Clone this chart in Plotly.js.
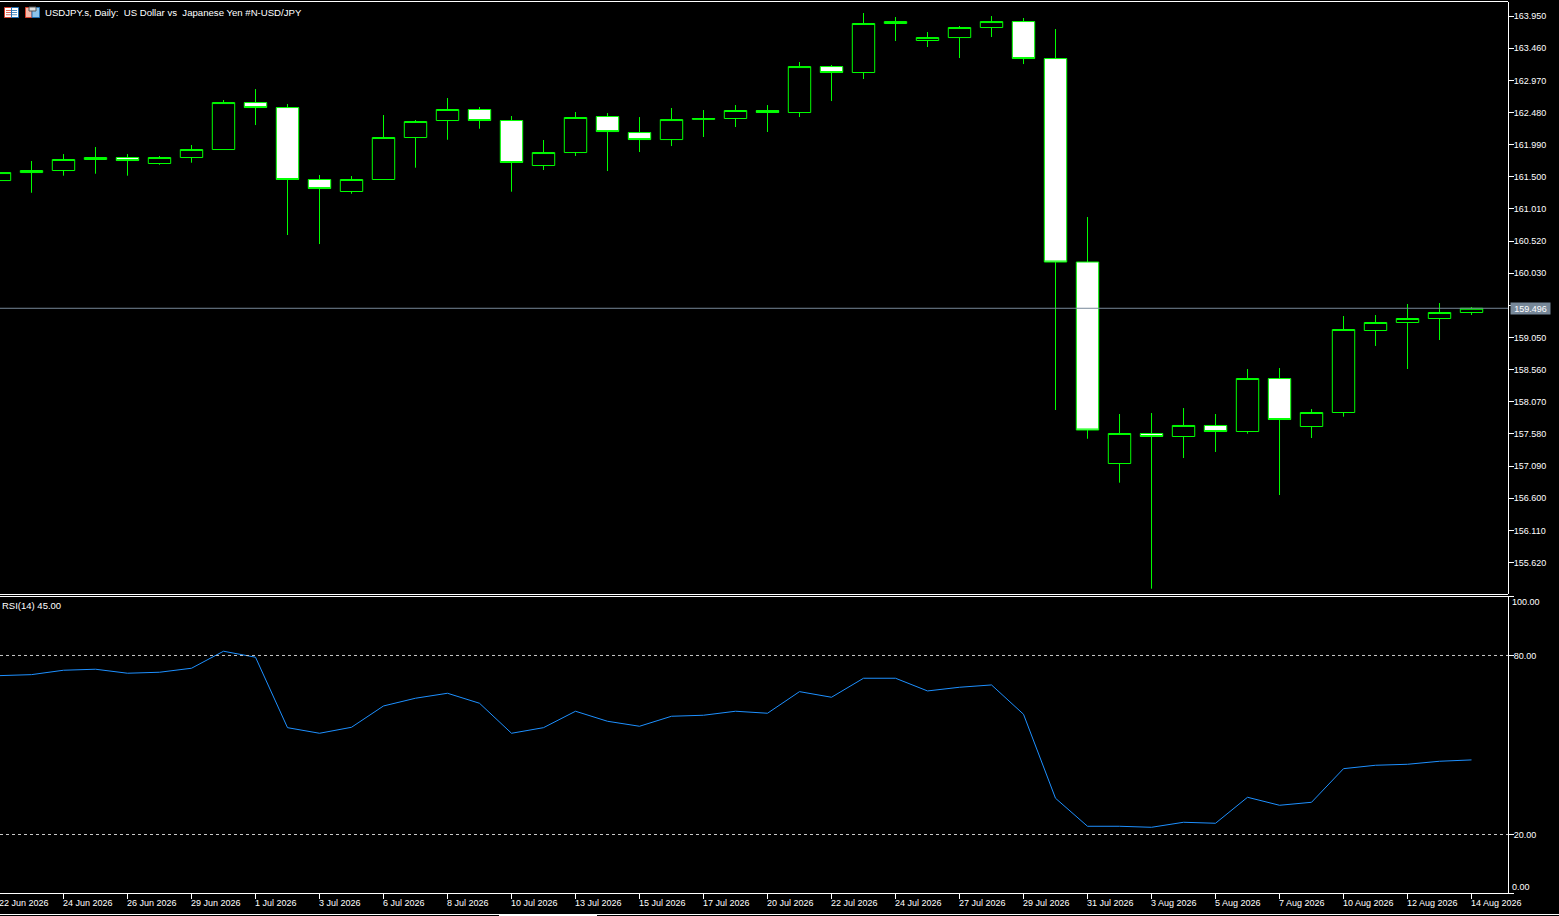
<!DOCTYPE html>
<html>
<head>
<meta charset="utf-8">
<title>USDJPY.s Daily</title>
<script src="https://cdn.plot.ly/plotly-3.0.1.min.js"></script>
<style>
  html, body { margin: 0; padding: 0; background: #000; overflow: hidden; }
</style>
</head>
<body>
<div id="chart" style="width:1559px;height:916px"></div>
<script>
const opens = [161.443, 161.565, 161.596, 161.764, 161.794, 161.703, 161.794, 161.916, 162.632, 162.556, 161.459, 161.276,
  161.459, 162.099, 162.358, 162.526, 162.358, 161.672, 161.870, 162.419, 162.175, 162.068, 162.375, 162.389,
  162.511, 162.480, 163.181, 163.090, 163.837, 163.578, 163.623, 163.776, 163.867, 163.303, 160.201, 157.129,
  157.587, 157.541, 157.709, 157.617, 158.425, 157.693, 157.907, 159.157, 159.279, 159.340, 159.431];
const highs = [161.620, 161.741, 161.847, 161.954, 161.847, 161.817, 161.985, 162.671, 162.838, 162.610, 161.527, 161.512,
  162.442, 162.366, 162.701, 162.564, 162.427, 162.061, 162.488, 162.472, 162.411, 162.549, 162.518, 162.594,
  162.594, 163.250, 163.204, 163.997, 163.936, 163.707, 163.799, 163.951, 163.921, 163.753, 160.887, 157.884,
  157.899, 157.975, 157.884, 158.570, 158.585, 157.960, 159.378, 159.393, 159.561, 159.576, 159.515];
const lows = [161.380, 161.257, 161.517, 161.547, 161.517, 161.684, 161.715, 161.913, 162.289, 160.613, 160.475, 161.242,
  161.456, 161.639, 162.065, 162.233, 161.273, 161.604, 161.817, 161.588, 161.878, 161.969, 162.107, 162.259,
  162.183, 162.411, 162.655, 162.991, 163.570, 163.479, 163.311, 163.631, 163.219, 157.945, 157.507, 156.837,
  155.221, 157.213, 157.305, 157.584, 156.649, 157.518, 157.843, 158.921, 158.570, 159.012, 159.393];
const closes = [161.565, 161.596, 161.764, 161.794, 161.748, 161.794, 161.916, 162.632, 162.556, 161.459, 161.321, 161.459,
  162.099, 162.343, 162.526, 162.358, 161.718, 161.870, 162.404, 162.190, 162.068, 162.373, 162.389, 162.511,
  162.480, 163.181, 163.090, 163.837, 163.867, 163.623, 163.776, 163.867, 163.303, 160.201, 157.640, 157.587,
  157.541, 157.709, 157.617, 158.425, 157.800, 157.907, 159.172, 159.279, 159.340, 159.431, 159.496];
const rsiValues = [73.24, 73.58, 75.05, 75.39, 74.05, 74.38, 75.72, 81.42, 79.41, 55.81, 53.93, 55.94,
  63.08, 65.67, 67.34, 63.99, 53.93, 55.81, 61.31, 57.95, 56.28, 59.63, 59.97, 61.31,
  60.64, 67.88, 66.00, 72.37, 72.37, 68.11, 69.35, 70.12, 60.30, 32.15, 22.76, 22.76,
  22.42, 24.10, 23.77, 32.48, 29.80, 30.80, 42.07, 43.21, 43.54, 44.55, 45.00];
const dateLabels = ["22 Jun 2026", "24 Jun 2026", "26 Jun 2026", "29 Jun 2026", "1 Jul 2026", "3 Jul 2026",
  "6 Jul 2026", "8 Jul 2026", "10 Jul 2026", "13 Jul 2026", "15 Jul 2026", "17 Jul 2026",
  "20 Jul 2026", "22 Jul 2026", "24 Jul 2026", "27 Jul 2026", "29 Jul 2026", "31 Jul 2026",
  "3 Aug 2026", "5 Aug 2026", "7 Aug 2026", "10 Aug 2026", "12 Aug 2026", "14 Aug 2026"];
const priceTicks = [163.95, 163.46, 162.97, 162.48, 161.99, 161.50, 161.01, 160.52, 160.03, 159.54,
  159.05, 158.56, 158.07, 157.58, 157.09, 156.60, 156.11, 155.62];
const rsiLevels = [80, 20];
const lastPrice = 159.496;

const font = "Liberation Sans";
const textColor = "#ffffff";
const plotBottom = 893;
const paperY = (px) => (plotBottom - px) / plotBottom;
const paperX = (px) => px / 1508;

const bars = opens.map((_, i) => i);
const dateTicks = dateLabels.map((_, i) => i * 2);
const rsiRange = [0.4, 99.93];

const candles = {
  type: "candlestick",
  x: bars,
  open: opens,
  high: highs,
  low: lows,
  close: closes,
  xaxis: "x",
  yaxis: "y",
  whiskerwidth: 0,
  increasing: { line: { color: "#00ff00", width: 1 }, fillcolor: "#000000" },
  decreasing: { line: { color: "#00ff00", width: 1 }, fillcolor: "#ffffff" },
  hoverinfo: "skip",
  showlegend: false,
};

const rsiLine = {
  type: "scatter",
  mode: "lines",
  x: bars,
  y: rsiValues,
  xaxis: "x",
  yaxis: "y2",
  line: { color: "#1e90ff", width: 1 },
  hoverinfo: "skip",
  showlegend: false,
};

const whiteLine = (x0, x1, y) => ({
  type: "line", xref: "paper", yref: "paper",
  x0: paperX(x0), x1: paperX(x1), y0: paperY(y), y1: paperY(y),
  line: { color: "#ffffff", width: 1 },
});

const iconRect = (x0, y0, x1, y1, fill, edge) => ({
  type: "rect", xref: "paper", yref: "paper",
  x0: paperX(x0), x1: paperX(x1), y0: paperY(y0), y1: paperY(y1),
  fillcolor: fill,
  line: { color: edge || fill, width: edge ? 1 : 0 },
});

const shapes = [
  whiteLine(0, 1508, 1.5),
  whiteLine(0, 1508, 594.5),
  whiteLine(0, 1508, 596.5),
  whiteLine(0, 1559, 914.5),
  iconRect(499, 914, 597, 916, "#ffffff"),
  {
    type: "line", xref: "paper", yref: "y",
    x0: 0, x1: 1, y0: lastPrice, y1: lastPrice,
    line: { color: "#778899", width: 1 },
  },
  // chart icons next to the title
  iconRect(4.5, 7.5, 11.5, 17.5, "#ffffff", "#d8402c"),
  iconRect(11.5, 7.5, 18.5, 17.5, "#ffffff", "#1f6fb2"),
  iconRect(6, 10, 11, 10.8, "#d8402c"),
  iconRect(6, 12.2, 11, 13, "#d8402c"),
  iconRect(6, 14.4, 11, 15.2, "#d8402c"),
  iconRect(12, 10, 17, 10.8, "#1f6fb2"),
  iconRect(12, 12.2, 17, 13, "#1f6fb2"),
  iconRect(12, 14.4, 17, 15.2, "#1f6fb2"),
  iconRect(25.5, 7.5, 32, 17.5, "#f4b8a8", "#d8402c"),
  iconRect(32, 7.5, 39.5, 17.5, "#8cc4ec", "#1f6fb2"),
  iconRect(29, 7, 36, 11, "#dddddd", "#555555"),
];
rsiLevels.forEach((level) => {
  shapes.push({
    type: "line", xref: "paper", yref: "y2",
    x0: 0, x1: 1, y0: level, y1: level,
    line: { color: "#c8c8c8", width: 1, dash: "3px,3px" },
  });
});

const smallText = (text, extra, size) => Object.assign({
  text: text,
  showarrow: false,
  font: { family: font, size: size || 9, color: textColor },
  borderpad: 0,
}, extra);

const annotations = [
  smallText("USDJPY.s, Daily:\u00a0 US Dollar vs\u00a0 Japanese Yen #N-USD/JPY", {
    xref: "paper", yref: "paper", x: paperX(44), y: paperY(12.5), xanchor: "left", yanchor: "middle",
  }, 9.6),
  smallText("RSI(14) 45.00", {
    xref: "paper", yref: "paper", x: paperX(1), y: paperY(605.5), xanchor: "left", yanchor: "middle",
  }, 9.5),
  smallText("100.00", { xref: "paper", yref: "y2", x: 1, xshift: 3, y: rsiRange[1], yshift: -6, xanchor: "left", yanchor: "middle" }),
  smallText("0.00", { xref: "paper", yref: "y2", x: 1, xshift: 3, y: rsiRange[0], yshift: 6, xanchor: "left", yanchor: "middle" }),
  smallText(lastPrice.toFixed(3), {
    xref: "paper", yref: "y", x: 1, xshift: 2, y: lastPrice, xanchor: "left", yanchor: "middle",
    bgcolor: "#778899", width: 39, height: 11, align: "center",
  }),
];
dateLabels.forEach((label, i) => {
  annotations.push(smallText(label, {
    // nudged off the left range edge, which would hide the first label
    xref: "x", yref: "paper", x: dateTicks[i] + 0.02, xshift: -2, y: paperY(902.5), xanchor: "left", yanchor: "middle",
  }));
});

const axisStyle = {
  color: textColor,
  showline: true,
  linecolor: "#ffffff",
  linewidth: 1,
  showgrid: false,
  zeroline: false,
  ticks: "outside",
  ticklen: 5,
  tickcolor: "#ffffff",
  tickwidth: 1,
  ticklabelstandoff: -2,
  tickfont: { family: font, size: 9, color: textColor },
};

const layout = {
  width: 1559,
  height: 916,
  margin: { l: 0, r: 51, t: 0, b: 916 - plotBottom, pad: 0 },
  paper_bgcolor: "#000000",
  plot_bgcolor: "#000000",
  showlegend: false,
  boxgap: 0.3,
  boxgroupgap: 0,
  dragmode: false,
  shapes: shapes,
  annotations: annotations,
  xaxis: Object.assign({}, axisStyle, {
    range: [0.0156, 47.14],
    anchor: "y2",
    tickvals: dateTicks,
    showticklabels: false,
    rangeslider: { visible: false },
    fixedrange: true,
  }),
  yaxis: Object.assign({}, axisStyle, {
    domain: [paperY(594), paperY(2)],
    range: [155.14, 164.165],
    side: "right",
    anchor: "x",
    tickvals: priceTicks,
    tickformat: ".3f",
    fixedrange: true,
  }),
  yaxis2: Object.assign({}, axisStyle, {
    domain: [0, paperY(596)],
    range: rsiRange,
    side: "right",
    anchor: "x",
    tickvals: [rsiRange[1], 80, 20, rsiRange[0]],
    ticktext: ["", "80.00", "20.00", ""],
    fixedrange: true,
  }),
};

const chartConfig = { displayModeBar: false, staticPlot: true };

Plotly.newPlot("chart", [candles, rsiLine], layout, chartConfig);
</script>
</body>
</html>
